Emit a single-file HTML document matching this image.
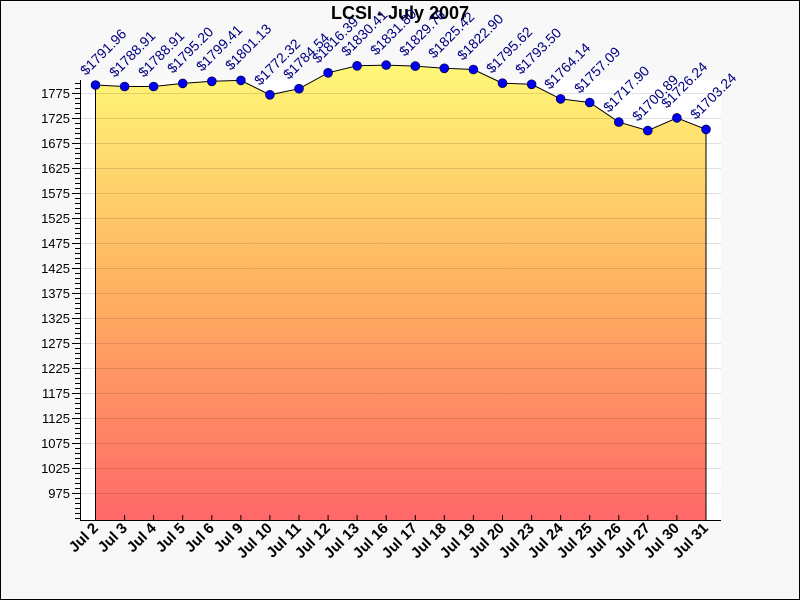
<!DOCTYPE html>
<html><head><style>body{margin:0}svg{display:block}</style></head><body>
<svg width="800" height="600" xmlns="http://www.w3.org/2000/svg" font-family="Liberation Sans, sans-serif">
<defs><linearGradient id="g" x1="0" y1="0" x2="0" y2="1"><stop offset="0" stop-color="#fff878"/><stop offset="0.5" stop-color="#ffb060"/><stop offset="1" stop-color="#ff6868"/></linearGradient></defs>
<rect x="0.5" y="0.5" width="799" height="599" fill="#f8f8f8" stroke="#000"/>
<rect x="80" y="80" width="641" height="440" fill="#fff"/>
<text x="400" y="19" text-anchor="middle" font-weight="bold" font-size="18">LCSI - July 2007</text>
<polygon fill="url(#g)" points="95.5,520 95.5,85 124.6,86.5 153.6,86.5 182.7,83.4 211.8,81.3 240.9,80.4 269.9,94.8 299,88.7 328.1,72.8 357.1,65.8 386.2,65.1 415.3,66.1 444.3,68.3 473.4,69.5 502.5,83.2 531.6,84.3 560.6,98.9 589.7,102.5 618.8,122.1 647.8,130.6 676.9,117.9 706,129.4 706,520"/>
<g stroke="#000" stroke-opacity="0.12">
<line x1="80" x2="721" y1="93.5" y2="93.5"/><line x1="80" x2="721" y1="118.5" y2="118.5"/><line x1="80" x2="721" y1="143.5" y2="143.5"/><line x1="80" x2="721" y1="168.5" y2="168.5"/><line x1="80" x2="721" y1="193.5" y2="193.5"/><line x1="80" x2="721" y1="218.5" y2="218.5"/><line x1="80" x2="721" y1="243.5" y2="243.5"/><line x1="80" x2="721" y1="268.5" y2="268.5"/><line x1="80" x2="721" y1="293.5" y2="293.5"/><line x1="80" x2="721" y1="318.5" y2="318.5"/><line x1="80" x2="721" y1="343.5" y2="343.5"/><line x1="80" x2="721" y1="368.5" y2="368.5"/><line x1="80" x2="721" y1="393.5" y2="393.5"/><line x1="80" x2="721" y1="418.5" y2="418.5"/><line x1="80" x2="721" y1="443.5" y2="443.5"/><line x1="80" x2="721" y1="468.5" y2="468.5"/><line x1="80" x2="721" y1="493.5" y2="493.5"/>
</g>
<line x1="95.5" y1="85" x2="95.5" y2="520" stroke="#000"/>
<line x1="706" y1="129.4" x2="706" y2="520" stroke="#000"/>
<polyline fill="none" stroke="#000" points="95.5,85 124.6,86.5 153.6,86.5 182.7,83.4 211.8,81.3 240.9,80.4 269.9,94.8 299,88.7 328.1,72.8 357.1,65.8 386.2,65.1 415.3,66.1 444.3,68.3 473.4,69.5 502.5,83.2 531.6,84.3 560.6,98.9 589.7,102.5 618.8,122.1 647.8,130.6 676.9,117.9 706,129.4"/>
<g fill="#0000ee" stroke="#000033" stroke-width="0.6">
<circle cx="95.5" cy="85" r="4.5"/><circle cx="124.6" cy="86.5" r="4.5"/><circle cx="153.6" cy="86.5" r="4.5"/><circle cx="182.7" cy="83.4" r="4.5"/><circle cx="211.8" cy="81.3" r="4.5"/><circle cx="240.9" cy="80.4" r="4.5"/><circle cx="269.9" cy="94.8" r="4.5"/><circle cx="299" cy="88.7" r="4.5"/><circle cx="328.1" cy="72.8" r="4.5"/><circle cx="357.1" cy="65.8" r="4.5"/><circle cx="386.2" cy="65.1" r="4.5"/><circle cx="415.3" cy="66.1" r="4.5"/><circle cx="444.3" cy="68.3" r="4.5"/><circle cx="473.4" cy="69.5" r="4.5"/><circle cx="502.5" cy="83.2" r="4.5"/><circle cx="531.6" cy="84.3" r="4.5"/><circle cx="560.6" cy="98.9" r="4.5"/><circle cx="589.7" cy="102.5" r="4.5"/><circle cx="618.8" cy="122.1" r="4.5"/><circle cx="647.8" cy="130.6" r="4.5"/><circle cx="676.9" cy="117.9" r="4.5"/><circle cx="706" cy="129.4" r="4.5"/>
</g>
<g fill="#000080" font-size="14">
<text transform="translate(86,76) rotate(-45)">$1791.96</text>
<text transform="translate(115,78) rotate(-45)">$1788.91</text>
<text transform="translate(144,78) rotate(-45)">$1788.91</text>
<text transform="translate(173,74) rotate(-45)">$1795.20</text>
<text transform="translate(202,72) rotate(-45)">$1799.41</text>
<text transform="translate(231,71) rotate(-45)">$1801.13</text>
<text transform="translate(260,86) rotate(-45)">$1772.32</text>
<text transform="translate(289,80) rotate(-45)">$1784.54</text>
<text transform="translate(318,64) rotate(-45)">$1816.39</text>
<text transform="translate(347,57) rotate(-45)">$1830.41</text>
<text transform="translate(376,56) rotate(-45)">$1831.80</text>
<text transform="translate(405,57) rotate(-45)">$1829.76</text>
<text transform="translate(434,59) rotate(-45)">$1825.42</text>
<text transform="translate(463,61) rotate(-45)">$1822.90</text>
<text transform="translate(492,74) rotate(-45)">$1795.62</text>
<text transform="translate(521,75) rotate(-45)">$1793.50</text>
<text transform="translate(550,90) rotate(-45)">$1764.14</text>
<text transform="translate(580,94) rotate(-45)">$1757.09</text>
<text transform="translate(609,113) rotate(-45)">$1717.90</text>
<text transform="translate(638,122) rotate(-45)">$1700.89</text>
<text transform="translate(667,109) rotate(-45)">$1726.24</text>
<text transform="translate(696,120) rotate(-45)">$1703.24</text>
</g>
<g stroke="#000">
<line x1="80.5" y1="80" x2="80.5" y2="520.5"/>
<line x1="80" y1="520.5" x2="721" y2="520.5"/>
<path d="M75 83.5H80M75 88.5H80M72 93.5H80M75 98.5H80M75 103.5H80M75 108.5H80M75 113.5H80M72 118.5H80M75 123.5H80M75 128.5H80M75 133.5H80M75 138.5H80M72 143.5H80M75 148.5H80M75 153.5H80M75 158.5H80M75 163.5H80M72 168.5H80M75 173.5H80M75 178.5H80M75 183.5H80M75 188.5H80M72 193.5H80M75 198.5H80M75 203.5H80M75 208.5H80M75 213.5H80M72 218.5H80M75 223.5H80M75 228.5H80M75 233.5H80M75 238.5H80M72 243.5H80M75 248.5H80M75 253.5H80M75 258.5H80M75 263.5H80M72 268.5H80M75 273.5H80M75 278.5H80M75 283.5H80M75 288.5H80M72 293.5H80M75 298.5H80M75 303.5H80M75 308.5H80M75 313.5H80M72 318.5H80M75 323.5H80M75 328.5H80M75 333.5H80M75 338.5H80M72 343.5H80M75 348.5H80M75 353.5H80M75 358.5H80M75 363.5H80M72 368.5H80M75 373.5H80M75 378.5H80M75 383.5H80M75 388.5H80M72 393.5H80M75 398.5H80M75 403.5H80M75 408.5H80M75 413.5H80M72 418.5H80M75 423.5H80M75 428.5H80M75 433.5H80M75 438.5H80M72 443.5H80M75 448.5H80M75 453.5H80M75 458.5H80M75 463.5H80M72 468.5H80M75 473.5H80M75 478.5H80M75 483.5H80M75 488.5H80M72 493.5H80M75 498.5H80M75 503.5H80M75 508.5H80M75 513.5H80M75 518.5H80"/>
<path d="M124.6 515V520M153.6 515V520M182.7 515V520M211.8 515V520M240.9 515V520M269.9 515V520M299 515V520M328.1 515V520M357.1 515V520M386.2 515V520M415.3 515V520M444.3 515V520M473.4 515V520M502.5 515V520M531.6 515V520M560.6 515V520M589.7 515V520M618.8 515V520M647.8 515V520M676.9 515V520"/>
</g>
<g font-size="13" text-anchor="end">
<text x="70" y="98">1775</text><text x="70" y="123">1725</text><text x="70" y="148">1675</text><text x="70" y="173">1625</text><text x="70" y="198">1575</text><text x="70" y="223">1525</text><text x="70" y="248">1475</text><text x="70" y="273">1425</text><text x="70" y="298">1375</text><text x="70" y="323">1325</text><text x="70" y="348">1275</text><text x="70" y="373">1225</text><text x="70" y="398">1175</text><text x="70" y="423">1125</text><text x="70" y="448">1075</text><text x="70" y="473">1025</text><text x="70" y="498">975</text>
</g>
<g font-size="15" font-weight="bold" text-anchor="end">
<text transform="translate(99,529) rotate(-45)">Jul 2</text>
<text transform="translate(128,529) rotate(-45)">Jul 3</text>
<text transform="translate(157,529) rotate(-45)">Jul 4</text>
<text transform="translate(186,529) rotate(-45)">Jul 5</text>
<text transform="translate(215,529) rotate(-45)">Jul 6</text>
<text transform="translate(244,529) rotate(-45)">Jul 9</text>
<text transform="translate(273,529) rotate(-45)">Jul 10</text>
<text transform="translate(302,529) rotate(-45)">Jul 11</text>
<text transform="translate(331,529) rotate(-45)">Jul 12</text>
<text transform="translate(360,529) rotate(-45)">Jul 13</text>
<text transform="translate(389,529) rotate(-45)">Jul 16</text>
<text transform="translate(418,529) rotate(-45)">Jul 17</text>
<text transform="translate(447,529) rotate(-45)">Jul 18</text>
<text transform="translate(476,529) rotate(-45)">Jul 19</text>
<text transform="translate(505,529) rotate(-45)">Jul 20</text>
<text transform="translate(535,529) rotate(-45)">Jul 23</text>
<text transform="translate(564,529) rotate(-45)">Jul 24</text>
<text transform="translate(593,529) rotate(-45)">Jul 25</text>
<text transform="translate(622,529) rotate(-45)">Jul 26</text>
<text transform="translate(651,529) rotate(-45)">Jul 27</text>
<text transform="translate(680,529) rotate(-45)">Jul 30</text>
<text transform="translate(709,529) rotate(-45)">Jul 31</text>
</g>
</svg>
</body></html>
